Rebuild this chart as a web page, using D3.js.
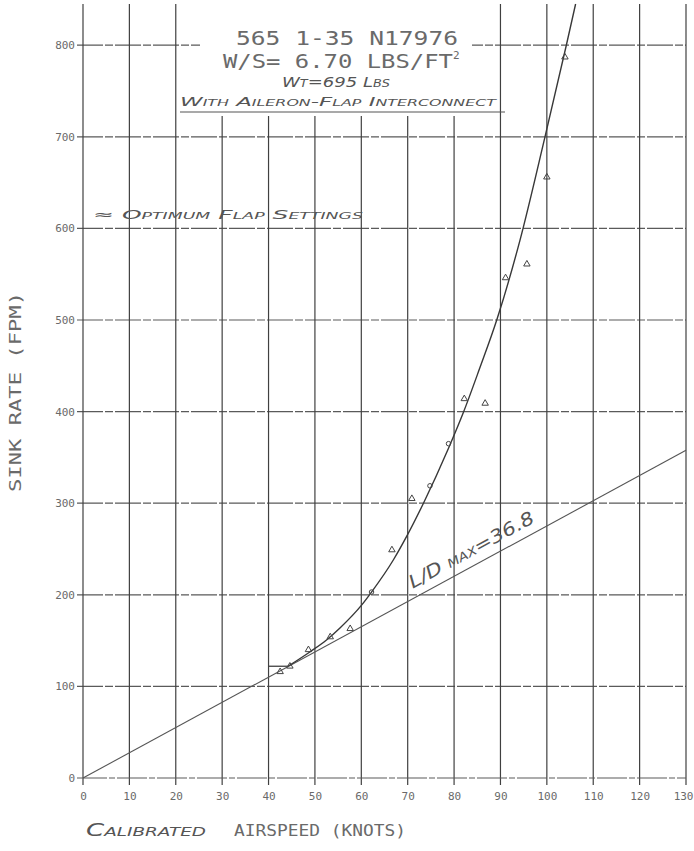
<!DOCTYPE html>
<html><head><meta charset="utf-8">
<script src="https://cdn.jsdelivr.net/npm/d3@7"></script>
<style>
html,body{margin:0;padding:0;background:#fff;}
svg{display:block;}
.dot{font-family:"DejaVu Sans Mono",monospace;fill:#6a6a6a;}
.hand{font-family:"DejaVu Sans",sans-serif;font-style:italic;font-variant:small-caps;fill:#555;}
</style></head>
<body>
<svg id="c" width="694" height="851"></svg>
<script>
// ---- data ----
const xTicks = [0,10,20,30,40,50,60,70,80,90,100,110,120,130];
const yTicks = [0,100,200,300,400,500,600,700,800];
// flight test points (knots, fpm)
const testKts = [42.5, 44.6, 48.6, 53.3, 57.6, 62.2, 66.6, 70.9, 74.8, 78.8, 82.2, 86.7, 91.1, 95.7, 100.0, 103.9];
const testFpm = [116, 122, 140, 154, 163, 203, 249, 305, 319, 365, 414, 409, 546, 561, 656, 787];
const testMark = ['t','t','t','t','t','o','t','t','o','o','t','t','t','t','t','t'];
// faired polar curve
const fitKts = [44.2, 48.9, 52.5, 55.4, 60.1, 62.2, 66.9, 69.8, 73.4, 78.8, 82.0, 85.5, 89.2, 94.2, 99.6, 104.2, 106.2];
const fitFpm = [122, 137.6, 150.7, 163.8, 189, 203, 238, 264, 300, 360, 399, 447, 500, 587, 700, 800, 845];
// short horizontal stub at start of curve
const stubKts = [40, 44.2];
const stubFpm = [122, 122];
// L/D max tangent line
const ldKts = [0, 130];
const ldFpm = [0, 357.7];

const svg = d3.select('#c');
const x = d3.scaleLinear().domain([0,130]).range([83,686]);
const y = d3.scaleLinear().domain([0,845]).range([778,4]);
const ink = '#404040';

// horizontal grid
svg.append('g').selectAll('line').data(yTicks.filter(d=>d>0)).join('line')
  .attr('x1', x(0)-6).attr('x2', x(130)).attr('y1', d=>y(d)).attr('y2', d=>y(d))
  .attr('stroke', '#5a5a5a').attr('stroke-width', 1.2).attr('stroke-dasharray','26,2,8,2');
// vertical grid
svg.append('g').selectAll('line').data(xTicks).join('line')
  .attr('x1', d=>x(d)).attr('x2', d=>x(d)).attr('y1', y(0)+7).attr('y2', y(845))
  .attr('stroke', ink).attr('stroke-width', 1.2);
// x axis (0 line)
svg.append('line').attr('x1', x(0)-6).attr('x2', x(130)).attr('y1', y(0)).attr('y2', y(0))
  .attr('stroke', '#5a5a5a').attr('stroke-width', 1.2).attr('stroke-dasharray','30,2,6,2');

// axis labels via d3 axes
const ax = svg.append('g').attr('transform', `translate(0,${y(0)+14})`)
  .call(d3.axisBottom(x).tickValues(xTicks).tickSize(0).tickPadding(0).tickFormat(d3.format('d')));
ax.select('.domain').remove();
ax.selectAll('text').attr('font-size',11).attr('fill','#6a6a6a')
  .attr('font-family','"DejaVu Sans Mono",monospace');
ax.selectAll('.tick').filter(d=>d===130).select('text')
  .attr('text-anchor','end').attr('x', 693 - x(130));
const ay = svg.append('g').attr('transform', `translate(${x(0)-8},0)`)
  .call(d3.axisLeft(y).tickValues(yTicks).tickSize(0).tickPadding(0).tickFormat(d3.format('d')));
ay.select('.domain').remove();
ay.selectAll('text').attr('font-size',11).attr('fill','#6a6a6a')
  .attr('font-family','"DejaVu Sans Mono",monospace');

// white patch behind title
svg.append('rect').attr('x',200).attr('y',0).attr('width',272).attr('height',116).attr('fill','#fff');

// L/D line
const line = d3.line().x(d=>x(d[0])).y(d=>y(d[1]));
svg.append('path').datum(d3.zip(ldKts, ldFpm)).attr('d', line)
  .attr('fill','none').attr('stroke','#555').attr('stroke-width',1.1);
// stub
svg.append('path').datum(d3.zip(stubKts, stubFpm)).attr('d', line)
  .attr('fill','none').attr('stroke',ink).attr('stroke-width',1.3);
// fitted curve
svg.append('path').datum(d3.zip(fitKts, fitFpm)).attr('d', d3.line().x(d=>x(d[0])).y(d=>y(d[1])).curve(d3.curveMonotoneX))
  .attr('fill','none').attr('stroke','#383838').attr('stroke-width',1.4);

// test points
const pts = d3.zip(testKts, testFpm, testMark);
svg.append('g').selectAll('path').data(pts).join('path')
  .attr('d', d => d[2]==='o' ? d3.symbol(d3.symbolCircle, 16)() : d3.symbol(d3.symbolTriangle, 18)())
  .attr('transform', d=>`translate(${x(d[0])},${y(d[1])})`)
  .attr('fill','none').attr('stroke','#444').attr('stroke-width',1);

// titles
svg.append('text').attr('class','dot').attr('x',236).attr('y',45).attr('font-size',19)
  .attr('textLength',222).attr('lengthAdjust','spacingAndGlyphs').text('565 1-35  N17976');
const t2 = svg.append('text').attr('class','dot').attr('x',223).attr('y',68).attr('font-size',19);
t2.append('tspan').attr('textLength',230).attr('lengthAdjust','spacingAndGlyphs').text('W/S=  6.70 LBS/FT');
t2.append('tspan').attr('font-size',11).attr('dy',-9).text('2');
svg.append('text').attr('class','hand').attr('x',336).attr('y',87).attr('font-size',14)
  .attr('text-anchor','middle').attr('textLength',108).attr('lengthAdjust','spacingAndGlyphs').text('Wt=695 Lbs');
svg.append('text').attr('class','hand').attr('x',180).attr('y',106).attr('font-size',13)
  .attr('textLength',316).attr('lengthAdjust','spacingAndGlyphs').text('With Aileron-Flap Interconnect');
svg.append('line').attr('x1',180).attr('x2',505).attr('y1',112).attr('y2',112)
  .attr('stroke','#555').attr('stroke-width',1.2);

svg.append('text').attr('class','hand').attr('x',93).attr('y',219).attr('font-size',13)
  .attr('textLength',270).attr('lengthAdjust','spacingAndGlyphs').text('≈ Optimum Flap Settings');

// L/D label along line
const ang = Math.atan2(y(ldFpm[1])-y(0), x(ldKts[1])-x(0))*180/Math.PI;
const lx = x(72), lyy = y(72*ldFpm[1]/ldKts[1]);
const ldt = svg.append('text').attr('class','hand')
  .attr('transform', `translate(${lx},${lyy}) rotate(${ang}) translate(0,-9)`)
  .attr('font-size',18).attr('font-style','normal')
  .attr('textLength',140).attr('lengthAdjust','spacingAndGlyphs');
ldt.append('tspan').text('L/D ');
ldt.append('tspan').attr('font-size',12).text('MAX');
ldt.append('tspan').text('=36.8');

// axis titles
svg.append('text').attr('class','dot').attr('transform','translate(21,392) rotate(-90)')
  .attr('text-anchor','middle').attr('font-size',15)
  .attr('textLength',200).attr('lengthAdjust','spacingAndGlyphs').text('SINK RATE (FPM)');
svg.append('text').attr('class','hand').attr('x',86).attr('y',836).attr('font-size',17).attr('font-style','normal')
  .attr('textLength',120).attr('lengthAdjust','spacingAndGlyphs').text('Calibrated');
svg.append('text').attr('class','dot').attr('x',234).attr('y',836).attr('font-size',15)
  .attr('textLength',172).attr('lengthAdjust','spacingAndGlyphs').text('AIRSPEED (KNOTS)');
</script>
</body></html>
